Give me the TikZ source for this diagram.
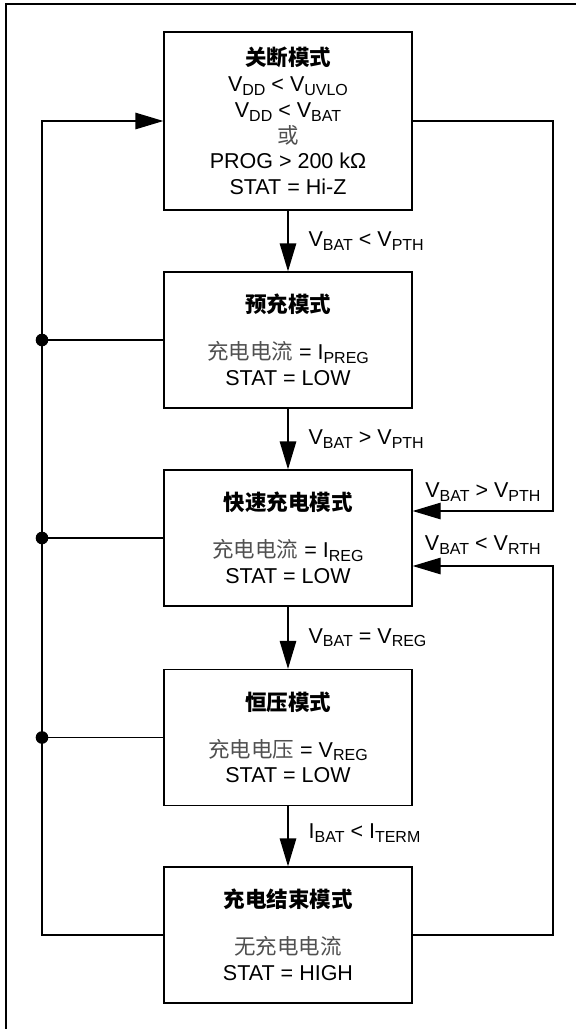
\documentclass[tikz,border=0pt]{standalone}
\usepackage{fontspec}
\usepackage{xcolor}
\usepackage{tikz}
\usetikzlibrary{arrows.meta}
\setmainfont{Liberation Sans}
\newfontfamily\cjk{Noto Sans CJK SC}
\definecolor{zhgray}{HTML}{505050}
\newcommand{\sbs}[1]{\raisebox{-3.8pt}{\fontsize{16}{16}\selectfont #1}}
\newcommand{\zh}[1]{{\cjk\color{zhgray}#1}}
\newcommand{\zhb}[1]{{\cjk\bfseries #1}}
\tikzset{
  modebox/.style={draw, line width=1.3pt, minimum width=248pt, minimum height=136pt,
    align=center, inner sep=0pt, font=\fontsize{21.5}{25.8}\selectfont},
  flow/.style={line width=1.3pt, -{Triangle[length=28pt, width=16.5pt]}},
  wire/.style={line width=1.3pt},
  cond/.style={font=\fontsize{21.5}{25}\selectfont, inner sep=0pt}
}
\begin{document}
\begin{tikzpicture}[x=1pt, y=-1pt]
                \useasboundingbox (0,0) rectangle (576,1029);
                \draw [wire] (576,4) -- (6,4) -- (6,1029);
                % modes
                \node [modebox, minimum height=178pt] (shutdown) at (288,121) {\zhb{关断模式}\\V\sbs{DD} < V\sbs{UVLO}\\V\sbs{DD} < V\sbs{BAT}\\\zh{或}\\PROG > 200 kΩ\\STAT = Hi-Z};
                \node [modebox] (precond) at (288,340) {\zhb{预充模式}\\[21pt]\zh{充电电流} = I\sbs{PREG}\\STAT = LOW};
                \node [modebox] (fast) at (288,538) {\zhb{快速充电模式}\\[21pt]\zh{充电电流} = I\sbs{REG}\\STAT = LOW};
                \node [modebox] (cv) at (288,737.5) {\zhb{恒压模式}\\[21pt]\zh{充电电压} = V\sbs{REG}\\STAT = LOW};
                \node [modebox] (done) at (288,935) {\zhb{充电结束模式}\\[21pt]\zh{无充电电流}\\STAT = HIGH};
                % main chain
                \draw [flow] (shutdown) -- node [cond, right=20pt] {V\sbs{BAT} < V\sbs{PTH}} (precond);
                \draw [flow] (precond) -- node [cond, right=20pt] {V\sbs{BAT} > V\sbs{PTH}} (fast);
                \draw [flow] (fast) -- node [cond, right=20pt] {V\sbs{BAT} = V\sbs{REG}} (cv);
                \draw [flow] (cv) -- node [cond, right=20pt, yshift=3pt] {I\sbs{BAT} < I\sbs{TERM}} (done);
                % right side returns
                \coordinate (r1) at (553,511);
                \coordinate (r2) at (553,566);
                \draw [flow] (shutdown.east) -| (r1) -- node [cond, above=9pt] {V\sbs{BAT} > V\sbs{PTH}} (fast.east |- r1);
                \draw [flow] (done.east) -| (r2) -- node [cond, above=11pt] {V\sbs{BAT} < V\sbs{RTH}} (fast.east |- r2);
                % left side return
                \coordinate (l1) at (42,121);
                \draw [flow] (done.west) -| (l1) -- (shutdown.west);
                \foreach \m in {precond, fast, cv} {
                    \coordinate (dot-\m) at (l1 |- \m.west);
                    \draw [wire] (\m.west) -- (dot-\m);
                    \fill (dot-\m) circle (6.3pt);
                }
            \end{tikzpicture}
\end{document}
